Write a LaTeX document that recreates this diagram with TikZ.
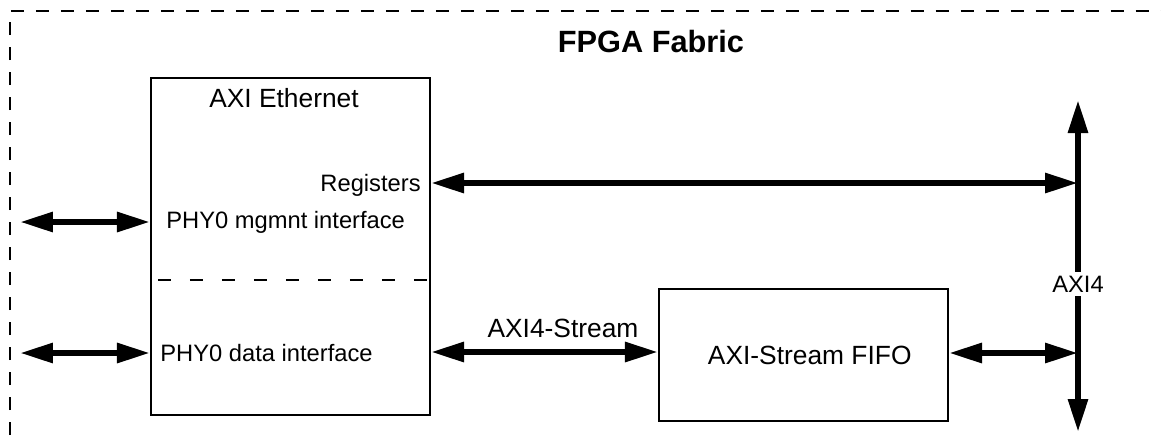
\documentclass[tikz,border=0pt]{standalone}
\usepackage{fontspec}
\setmainfont{Liberation Sans}
\usepackage{tikz}
\usetikzlibrary{positioning}
\usetikzlibrary{calc}
\usetikzlibrary{arrows.meta}
\tikzstyle{fabric}=[line width=1.4pt,dash pattern=on 0.27cm off 0.23cm]
\tikzstyle{split}=[line width=1.2pt,dash pattern=on 0.26cm off 0.38cm]
\tikzstyle{block}=[draw,line width=1.2pt,rectangle,inner sep=0]
\tikzstyle{bus}=[{Triangle[length=0.66cm,width=0.38cm]}-{Triangle[length=0.66cm,width=0.38cm]},line width=3.4pt]
\tikzstyle{txt}=[inner sep=0,font=\fontsize{13.5}{16}\selectfont]
\tikzstyle{bigtxt}=[inner sep=0,font=\fontsize{15}{18}\selectfont]
\tikzset{>=latex}

\begin{document}
\begin{tikzpicture}[x=0.02cm,y=-0.02cm]
  \useasboundingbox (0,0) rectangle (1161,441);
  \def\bx{1078} % AXI4 bus x position

  % FABRIC
  \draw[fabric] (10,460) |- (1180,11);
  \node[inner sep=0,font=\fontsize{17.5}{20}\selectfont\bfseries] (title) at (651,42) {FPGA Fabric};

  % AXI ETHERNET
  \node[block,minimum width=5.58cm,minimum height=6.74cm] (eth) at (290.5,246.5) {};
  \node[bigtxt] (ethname) at (284,98) {AXI Ethernet};
  \node[txt,anchor=east] (reg) at (421,185) {Registers};
  \node[txt,anchor=west] (mgmt) at (166,222) {PHY0 mgmnt interface};
  \node[txt,anchor=west] (data) at (160,353) {PHY0 data interface};
  \draw[split] (158,280) -- (eth.east |- 0,280);

  % FIFO
  \node[block,bigtxt,draw,inner sep=0,minimum width=5.78cm,minimum height=2.64cm] (fifo) at (803.5,355) {\hspace{0.25cm}AXI-Stream FIFO};
  \node[bigtxt] (stream) at (563,328) {AXI4-Stream};

  % AXI4 BUS
  \coordinate (bustop) at (\bx,100);
  \coordinate (busbot) at (\bx,432);
  \coordinate (phymgmt) at (20,222);
  \coordinate (phydata) at (20,353);
  \draw[bus] (busbot) -- (bustop);
  \node[txt,fill=white,inner sep=2pt] (axi) at (\bx,284) {AXI4};

  % CONNECTIONS
  \draw[bus] (phymgmt) -- (phymgmt -| eth.west);
  \draw[bus] (phydata) -- (phydata -| eth.west);
  \draw[bus] (eth.east |- 0,183) -- (bustop |- 0,183);
  \draw[bus] (eth.east |- 0,352) -- (fifo.west |- 0,352);
  \draw[bus] (fifo.east |- 0,353) -- (bustop |- 0,353);

\end{tikzpicture}
\end{document}
